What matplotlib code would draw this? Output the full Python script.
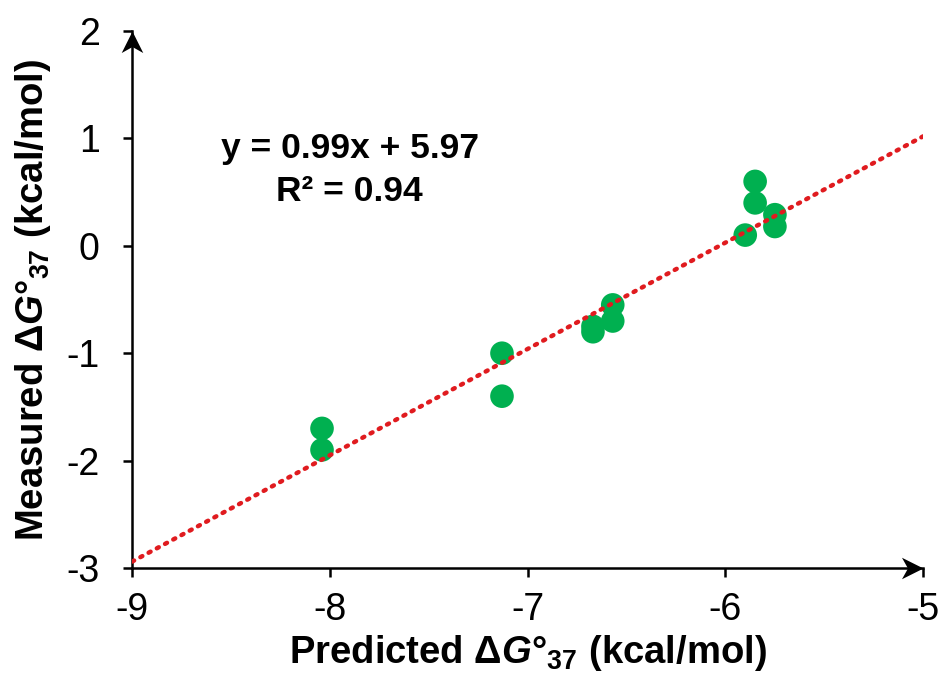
import matplotlib
matplotlib.use("Agg")
import matplotlib.pyplot as plt
from matplotlib.path import Path
from matplotlib.markers import MarkerStyle
import numpy as np

# measured vs predicted free energies (kcal/mol)
predicted = [-8.04, -8.04, -7.13, -7.13, -6.67, -6.67, -6.57, -6.57,
             -5.85, -5.85, -5.75, -5.75, -5.90]
measured = [-1.7, -1.9, -1.0, -1.4, -0.75, -0.8, -0.55, -0.7,
            0.6, 0.4, 0.29, 0.18, 0.1]
slope, intercept = 0.99, 5.97
x_ticks = [-9, -8, -7, -6, -5]
y_ticks = [-3, -2, -1, 0, 1, 2]

plt.rcParams["font.family"] = ["Liberation Sans", "DejaVu Sans"]
plt.rcParams["axes.unicode_minus"] = False
plt.rcParams["mathtext.fontset"] = "custom"
plt.rcParams["mathtext.rm"] = "Liberation Sans:bold"
plt.rcParams["mathtext.it"] = "Liberation Sans:bold:italic"

fig = plt.figure(figsize=(9.44, 6.75), dpi=100)
ax = fig.add_axes([0.14, 0.1585, 0.838, 0.7955])

fit_x = np.array([-9, -5])
ax.plot(fit_x, slope * fit_x + intercept, color="#e01b1f", lw=3.2,
        linestyle=(0, (0.5, 1.6)), dash_capstyle="round", zorder=3)
ax.scatter(predicted, measured, s=17 ** 2, color="#00b050",
           edgecolors="none", zorder=2)

ax.set_xlim(-9, -5)
ax.set_ylim(-3, 2)
ax.set_xticks(x_ticks)
ax.set_yticks(y_ticks)
ax.tick_params(labelsize=27, width=1.8, length=6.5, direction="out")
ax.tick_params(axis="x", pad=11)
ax.tick_params(axis="y", pad=17)
for side in ("top", "right"):
    ax.spines[side].set_visible(False)
for side in ("left", "bottom"):
    ax.spines[side].set_linewidth(1.8)

# stealth-like arrow heads at the ends of both axes (tip at the marker origin)
right_head = Path([(0, 0), (-1, 0.5), (-0.72, 0), (-1, -0.5), (0, 0)],
                  [Path.MOVETO, Path.LINETO, Path.LINETO, Path.LINETO, Path.CLOSEPOLY])
up_head = Path([(0, 0), (0.5, -1), (0, -0.72), (-0.5, -1), (0, 0)],
               [Path.MOVETO, Path.LINETO, Path.LINETO, Path.LINETO, Path.CLOSEPOLY])
ax.plot([1.0], [0], marker=MarkerStyle(right_head), markersize=31, color="black",
        markeredgewidth=0, transform=ax.transAxes, clip_on=False, zorder=5)
ax.plot([0], [1.0], marker=MarkerStyle(up_head), markersize=31, color="black",
        markeredgewidth=0, transform=ax.transAxes, clip_on=False, zorder=5)

ax.set_xlabel(r"Predicted Δ$\mathit{G}$°$_{37}$ (kcal/mol)",
              fontsize=27.5, fontweight="bold")
ax.xaxis.set_label_coords(0.5, -0.176)
ax.xaxis.label.set_va("baseline")
ax.set_ylabel(r"Measured Δ$\mathit{G}$°$_{37}$ (kcal/mol)",
              fontsize=27.5, fontweight="bold")
ax.yaxis.set_label_coords(-0.1125, 0.5)
ax.yaxis.label.set_va("baseline")

ax.text(-7.9, 0.706, "y = 0.99x + 5.97\nR² = 0.94", fontsize=25.5,
        fontweight="bold", ha="center", va="center", linespacing=1.35)

fig.savefig("out.png", dpi=100)
plt.close(fig)
